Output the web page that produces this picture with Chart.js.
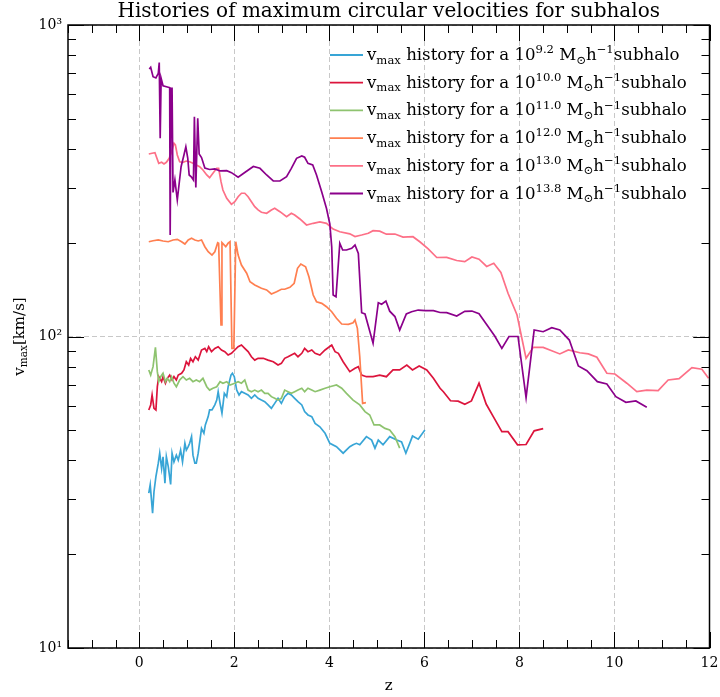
<!DOCTYPE html>
<html>
<head>
<meta charset="utf-8">
<title>vmax histories</title>
<script src="https://cdn.jsdelivr.net/npm/chart.js@4.4.1/dist/chart.umd.min.js"></script>
<style>
  html, body { margin: 0; padding: 0; background: #fff; }
</style>
</head>
<body>
<canvas id="vmaxChart" width="720" height="697"></canvas>
<script>
// subhalo masses (log10 M in Msun/h) shown in the legend
const haloMasses = ['9.2', '10.0', '11.0', '12.0', '13.0', '13.8'];
const lineColors = ['#38a5d6', '#dc143c', '#8ec36f', '#ff7f50', '#fd7087', '#8b008b'];

// redshift / vmax [km/s] samples for each subhalo
const zM92 = [0.20,0.23,0.28,0.31,0.35,0.40,0.43,0.47,0.50,0.54,0.57,0.61,0.66,0.69,0.73,0.78,0.82,0.87,0.91,0.96,0.99,1.03,1.06,1.10,1.13,1.17,1.20,1.24,1.31,1.36,1.39,1.45,1.48,1.53,1.59,1.63,1.66,1.70,1.74,1.79,1.84,1.87,1.93,1.96,2.00,2.05,2.10,2.15,2.22,2.29,2.36,2.43,2.50,2.57,2.64,2.71,2.78,2.85,2.92,2.99,3.06,3.13,3.20,3.27,3.34,3.42,3.48,3.55,3.63,3.70,3.80,3.91,4.01,4.15,4.29,4.43,4.50,4.57,4.64,4.78,4.89,4.96,5.03,5.13,5.27,5.42,5.52,5.61,5.75,5.87,6.01];
const vM92 = [31.4,33.4,27.1,31.8,35.5,39.2,42.2,37.7,41.1,33.8,41.1,38.2,33.5,42.2,39.6,41.6,40.1,43.2,39.6,45.4,43.2,44.3,45.4,47.7,41.6,39.2,39.2,42.2,50.7,48.9,52.0,55.3,58.1,58.1,60.3,62.5,66.5,61.0,56.7,65.7,64.1,69.0,75.2,76.2,74.3,67.3,64.9,66.5,65.7,64.9,63.3,64.9,63.3,62.5,61.8,60.3,58.8,61.0,63.3,61.0,64.1,65.7,64.9,63.3,61.8,60.3,57.4,56.0,55.3,52.6,51.3,48.9,45.4,44.3,42.2,44.3,44.9,45.4,44.9,47.7,46.5,43.8,46.5,44.9,47.7,46.5,45.9,42.2,47.9,46.8,50.1];

const zM100 = [0.20,0.24,0.27,0.31,0.35,0.38,0.41,0.47,0.50,0.55,0.59,0.64,0.69,0.73,0.78,0.82,0.89,0.94,0.99,1.04,1.08,1.13,1.18,1.24,1.31,1.38,1.42,1.46,1.52,1.59,1.66,1.73,1.80,1.87,1.94,2.01,2.08,2.15,2.22,2.29,2.36,2.43,2.50,2.61,2.71,2.82,2.92,2.99,3.06,3.13,3.20,3.27,3.34,3.42,3.48,3.55,3.63,3.70,3.80,3.91,4.05,4.12,4.19,4.29,4.43,4.54,4.61,4.68,4.78,4.92,5.06,5.20,5.34,5.48,5.63,5.75,5.89,6.05,6.19,6.33,6.40,6.55,6.71,6.85,6.99,7.15,7.30,7.45,7.63,7.76,7.96,8.14,8.31,8.50];
const vM100 = [58.1,60.3,64.9,58.8,58.1,69.0,74.3,71.6,74.3,70.8,73.4,75.2,72.5,74.3,72.5,75.2,76.2,78.1,83.0,81.0,85.1,83.0,86.1,84.0,90.5,91.6,89.4,92.7,89.4,91.6,92.7,90.5,89.4,87.2,88.3,90.5,92.7,93.9,91.6,89.4,86.1,84.0,85.1,85.1,84.0,83.0,81.0,82.0,85.1,86.1,87.2,88.3,86.1,88.3,91.6,89.4,90.5,88.3,87.2,90.5,93.9,89.4,88.3,83.0,77.1,79.1,80.0,75.2,74.3,74.3,75.2,74.3,78.1,78.1,81.0,78.1,80.4,78.1,73.4,68.2,66.5,62.2,62.0,60.6,62.1,70.8,60.7,55.3,49.5,49.5,44.9,45.0,49.8,50.6];

const zM110 = [0.20,0.24,0.29,0.34,0.38,0.41,0.45,0.50,0.55,0.59,0.64,0.68,0.73,0.78,0.85,0.92,0.99,1.06,1.13,1.20,1.27,1.34,1.42,1.48,1.55,1.63,1.70,1.76,1.84,1.91,2.01,2.08,2.15,2.22,2.29,2.36,2.43,2.50,2.57,2.64,2.71,2.78,2.85,2.92,2.99,3.06,3.13,3.20,3.27,3.34,3.42,3.48,3.55,3.63,3.70,3.80,3.91,4.01,4.15,4.26,4.36,4.50,4.64,4.75,4.85,4.94,5.06,5.17,5.27,5.38,5.48];
const vM110 = [78.1,75.2,80.0,92.3,77.1,71.6,74.3,76.2,71.6,73.4,71.6,74.3,70.8,69.0,72.5,74.3,72.5,73.4,71.6,72.5,71.6,73.4,69.0,67.3,68.2,69.0,71.6,70.8,71.6,69.9,70.8,71.6,70.8,72.5,67.3,66.5,67.3,66.5,67.3,65.7,65.7,64.1,63.3,62.5,63.3,67.3,66.5,65.7,66.5,67.3,68.2,66.5,68.2,67.3,66.5,67.3,68.2,69.0,69.9,68.2,65.7,62.5,60.3,57.4,56.0,52.0,52.0,50.7,50.1,47.7,43.8];

const zM120 = [0.20,0.29,0.40,0.50,0.61,0.71,0.80,0.89,0.96,1.03,1.10,1.17,1.24,1.31,1.38,1.45,1.53,1.59,1.65,1.67,1.72,1.74,1.82,1.87,1.91,1.95,1.99,2.03,2.08,2.15,2.26,2.33,2.43,2.57,2.68,2.78,2.89,2.99,3.06,3.17,3.26,3.33,3.40,3.50,3.57,3.66,3.73,3.84,3.94,4.05,4.15,4.26,4.40,4.50,4.54,4.59,4.64,4.70,4.77];
const vM120 = [201.5,203.0,204.1,202.6,201.5,204.1,205.1,201.5,198.1,204.1,206.7,204.1,202.6,204.1,194.2,187.1,182.6,187.1,200.0,199.3,108.9,200.0,194.2,199.3,201.5,91.6,91.6,201.5,182.6,169.6,159.6,149.9,146.3,142.8,141.1,136.9,139.3,141.8,141.8,143.9,148.2,165.6,170.9,167.5,155.6,135.9,129.3,127.8,124.6,120.1,114.4,109.7,109.4,110.7,113.0,106.2,86.1,61.0,61.3];

const zM130 = [0.20,0.27,0.33,0.36,0.41,0.47,0.52,0.57,0.63,0.68,0.73,0.76,0.80,0.85,0.92,0.99,1.06,1.13,1.20,1.27,1.34,1.42,1.48,1.55,1.63,1.67,1.72,1.76,1.84,1.94,2.01,2.08,2.15,2.22,2.29,2.36,2.43,2.50,2.57,2.68,2.78,2.85,2.96,3.10,3.20,3.27,3.38,3.52,3.66,3.80,3.94,4.08,4.22,4.43,4.54,4.68,4.82,4.92,5.06,5.20,5.38,5.55,5.76,5.91,6.08,6.26,6.47,6.68,6.85,7.00,7.15,7.31,7.46,7.61,7.76,7.95,8.05,8.14,8.29,8.50,8.68,8.85,9.03,9.27,9.45,9.63,9.84,10.01,10.26,10.47,10.68,10.92,11.13,11.36,11.63,11.84,11.98];
const vM130 = [385.4,387.4,389.0,377.7,359.7,362.4,357.9,362.4,373.3,392.1,417.2,412.0,382.5,364.0,362.4,365.9,364.0,360.0,355.3,350.9,342.4,330.0,323.5,334.2,346.7,346.7,314.1,295.3,277.8,265.7,270.9,281.1,288.3,288.3,281.1,270.9,261.1,254.8,250.5,248.7,254.8,258.0,251.6,242.5,248.7,245.5,238.4,228.0,230.9,233.2,230.9,221.3,216.9,213.6,209.4,211.7,214.4,218.6,217.8,213.0,213.3,208.6,209.1,201.1,191.0,179.3,179.5,175.4,173.9,180.0,177.1,167.8,171.8,160.6,137.6,117.2,98.9,85.1,92.3,92.3,90.0,87.9,90.5,88.7,87.9,85.8,76.2,75.8,70.8,66.5,67.3,67.0,72.5,73.2,79.4,78.5,73.4];

const zM138 = [0.21,0.24,0.29,0.35,0.40,0.42,0.44,0.46,0.50,0.61,0.64,0.65,0.67,0.69,0.71,0.75,0.80,0.84,0.88,0.94,0.98,1.02,1.05,1.10,1.14,1.16,1.19,1.23,1.26,1.31,1.38,1.48,1.59,1.70,1.84,1.94,2.08,2.22,2.40,2.54,2.68,2.82,2.96,3.10,3.20,3.31,3.42,3.48,3.55,3.65,3.73,3.84,3.94,4.01,4.05,4.08,4.14,4.22,4.28,4.36,4.47,4.54,4.61,4.68,4.75,4.92,5.03,5.10,5.19,5.27,5.38,5.48,5.62,5.73,5.87,6.02,6.19,6.33,6.47,6.68,6.85,7.00,7.15,7.31,7.48,7.63,7.78,7.97,8.14,8.31,8.50,8.68,8.85,9.05,9.24,9.42,9.64,9.84,10.03,10.24,10.45,10.68];
const vM138 = [722.4,731.5,682.3,675.9,699.8,758.1,432.8,674.4,638.4,631.0,629.1,211.7,626.4,626.4,290.0,318.1,274.3,310.4,350.9,382.5,406.6,374.1,330.0,324.7,318.1,507.7,300.9,501.7,385.4,375.5,347.5,343.7,345.0,340.0,340.7,335.7,324.4,336.2,351.4,346.7,330.0,315.7,315.7,325.8,346.7,373.3,379.8,376.2,359.7,355.3,330.0,291.0,257.6,229.7,193.8,135.9,134.2,199.2,189.5,189.5,191.9,196.6,184.9,119.2,118.1,95.1,128.4,126.9,130.0,120.6,115.9,104.9,118.1,120.1,121.6,121.0,121.0,119.4,119.3,116.4,120.4,120.7,118.4,109.3,100.4,91.6,100.0,100.0,63.6,104.9,103.6,106.7,104.9,97.4,80.4,77.7,71.6,70.4,64.1,61.5,62.1,59.3];

const seriesZ = [zM92, zM100, zM110, zM120, zM130, zM138];
const seriesV = [vM92, vM100, vM110, vM120, vM130, vM138];

// axes
const xMajorTicks = [0, 2, 4, 6, 8, 10, 12];
const yMajorTicks = [10, 100, 1000];
const yTickLabels = ['10\u00b9', '10\u00b2', '10\u00b3'];

const SERIF = "'DejaVu Serif', 'Liberation Serif', serif";
const X_MIN = -1.5, X_MAX = 12;

function toPoints(zs, vs) {
    const n = Math.min(zs.length, vs.length);
    const pts = [];
    for (let i = 0; i < n; i++) pts.push({ x: zs[i], y: vs[i] });
    return pts;
}

// text with sub/superscript runs: [text, 'n' | 'sub' | 'sup']
function drawRich(ctx, x, y, parts, size) {
    ctx.textBaseline = 'alphabetic';
    ctx.textAlign = 'left';
    for (const [txt, kind] of parts) {
        let s = size, dy = 0;
        if (kind === 'sub') { s = size * 0.7; dy = size * 0.22; }
        if (kind === 'sup') { s = size * 0.7; dy = -size * 0.4; }
        ctx.font = s + 'px ' + SERIF;
        ctx.fillText(txt, x, y + dy);
        x += ctx.measureText(txt).width;
    }
    return x;
}

function legendParts(mass) {
    return [['v', 'n'], ['max', 'sub'], [' history for a 10', 'n'], [mass, 'sup'],
            [' M', 'n'], ['\u2299', 'sub'], ['h', 'n'], ['\u22121', 'sup'], ['subhalo', 'n']];
}

// frame, inward ticks, title, y label and legend
const decorations = {
    id: 'decorations',
    afterDatasetsDraw(chart) {
        const { ctx, chartArea: a, scales: { x, y } } = chart;
        ctx.save();
        ctx.strokeStyle = '#000';
        ctx.lineWidth = 1;
        ctx.beginPath();
        for (let v = X_MIN; v <= X_MAX + 1e-9; v += 0.5) {
            const px = Math.round(x.getPixelForValue(v)) + 0.5;
            const len = xMajorTicks.includes(v) ? 16 : 8;
            ctx.moveTo(px, a.bottom); ctx.lineTo(px, a.bottom - len);
            ctx.moveTo(px, a.top); ctx.lineTo(px, a.top + len);
        }
        for (let dec = 10; dec < 1000; dec *= 10) {
            for (let m = 1; m <= 10; m++) {
                const v = dec * m;
                const py = Math.round(y.getPixelForValue(v)) + 0.5;
                const len = (m === 1 || m === 10) ? 16 : 8;
                ctx.moveTo(a.left, py); ctx.lineTo(a.left + len, py);
                ctx.moveTo(a.right, py); ctx.lineTo(a.right - len, py);
            }
        }
        ctx.stroke();
        ctx.lineWidth = 1.5;
        ctx.strokeRect(a.left, a.top, a.right - a.left, a.bottom - a.top);

        // title
        ctx.fillStyle = '#000';
        ctx.font = '20px ' + SERIF;
        ctx.textAlign = 'center';
        ctx.textBaseline = 'middle';
        ctx.fillText('Histories of maximum circular velocities for subhalos', (a.left + a.right) / 2, 12);

        // y axis label
        ctx.save();
        ctx.translate(19, (a.top + a.bottom) / 2);
        ctx.rotate(-Math.PI / 2);
        const yParts = [['v', 'n'], ['max', 'sub'], ['[km/s]', 'n']];
        let w = 0;
        for (const [t, k] of yParts) {
            ctx.font = (k === 'n' ? 15 : 10.5) + 'px ' + SERIF;
            w += ctx.measureText(t).width;
        }
        drawRich(ctx, -w / 2, 5, yParts, 15);
        ctx.restore();

        // legend
        chart.data.datasets.forEach((ds, i) => {
            const rowY = 55 + i * 27.7;
            ctx.strokeStyle = ds.borderColor;
            ctx.lineWidth = 1.8;
            ctx.beginPath();
            ctx.moveTo(330, rowY); ctx.lineTo(363, rowY);
            ctx.stroke();
            ctx.fillStyle = '#000';
            drawRich(ctx, 367, rowY + 5, legendParts(haloMasses[i]), 16.6);
        });
        ctx.restore();
    }
};

new Chart(document.getElementById('vmaxChart'), {
    type: 'line',
    data: {
        datasets: haloMasses.map((m, i) => ({
            label: 'vmax history for a 10^' + m + ' Msun/h subhalo',
            data: toPoints(seriesZ[i], seriesV[i]),
            borderColor: lineColors[i],
            backgroundColor: lineColors[i],
            borderWidth: 1.7,
            pointRadius: 0,
            tension: 0,
            fill: false,
            order: haloMasses.length - 1 - i
        }))
    },
    options: {
        responsive: false,
        animation: false,
        events: [],
        layout: { padding: { top: 25, right: 10.5, bottom: 0, left: 0 } },
        plugins: {
            legend: { display: false },
            tooltip: { enabled: false },
            title: { display: false }
        },
        scales: {
            x: {
                type: 'linear',
                min: X_MIN,
                max: X_MAX,
                afterBuildTicks: s => { s.ticks = xMajorTicks.map(v => ({ value: v })); },
                afterFit: s => { s.height = 49; s.paddingLeft = 0; s.paddingRight = 0; },
                grid: { color: '#c8c8c8', lineWidth: 1, drawTicks: false },
                border: { display: false, dash: [5, 3] },
                ticks: {
                    color: '#000',
                    font: { family: SERIF, size: 14 },
                    padding: 7,
                    maxRotation: 0,
                    autoSkip: false,
                    callback: v => String(v)
                },
                title: {
                    display: true,
                    text: 'z',
                    color: '#000',
                    font: { family: SERIF, size: 15 },
                    padding: { top: 0, bottom: 2 }
                }
            },
            y: {
                type: 'logarithmic',
                min: 10,
                max: 1000,
                afterBuildTicks: s => { s.ticks = yMajorTicks.map(v => ({ value: v })); },
                afterFit: s => { s.width = 68; s.paddingTop = 0; s.paddingBottom = 0; },
                grid: { color: '#c8c8c8', lineWidth: 1, drawTicks: false },
                border: { display: false, dash: [5, 3] },
                ticks: {
                    color: '#000',
                    font: { family: SERIF, size: 14 },
                    padding: 6,
                    callback: v => yTickLabels[yMajorTicks.indexOf(v)]
                }
            }
        }
    },
    plugins: [decorations]
});
</script>
</body>
</html>
